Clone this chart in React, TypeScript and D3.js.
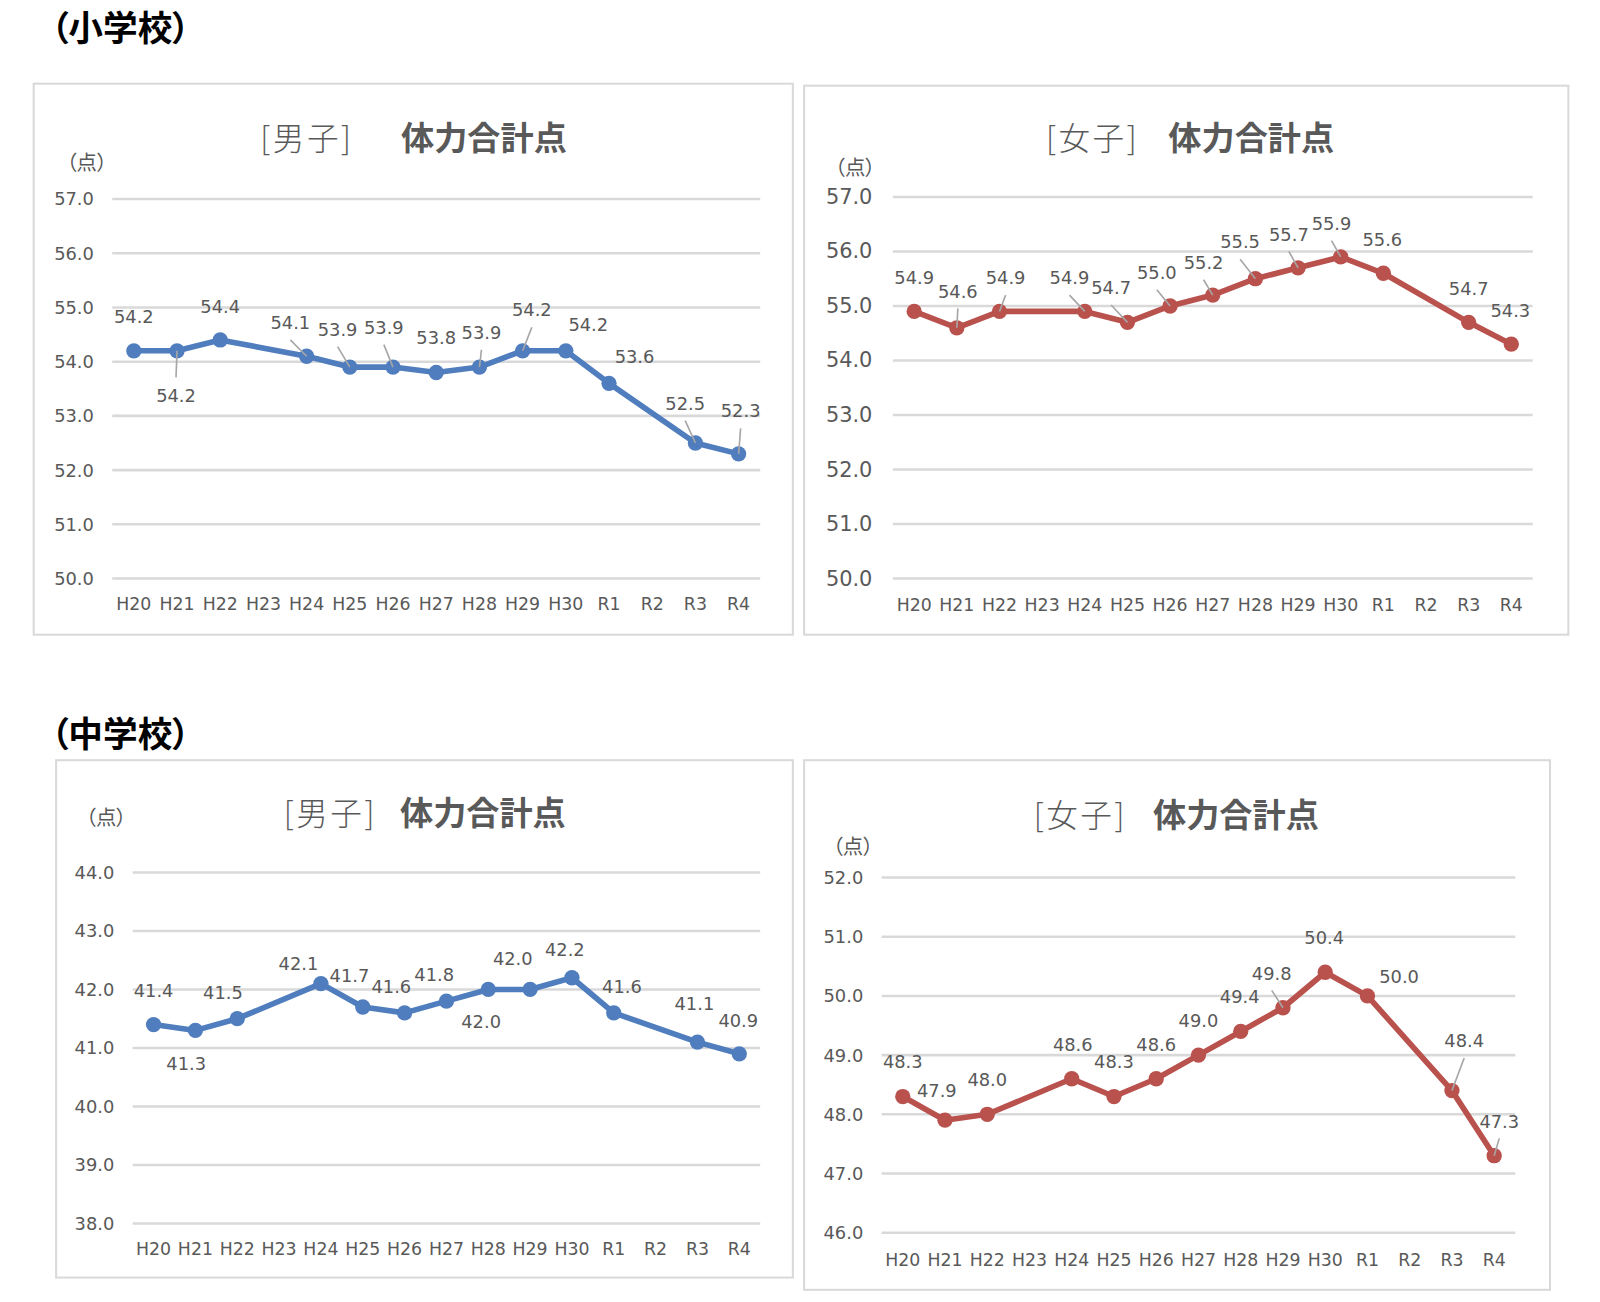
import React from "react";
import * as d3 from "d3";

// ---------- data ----------
const categories = ["H20", "H21", "H22", "H23", "H24", "H25", "H26", "H27", "H28", "H29", "H30", "R1", "R2", "R3", "R4"];

const elemBoys: (number | null)[] = [54.2, 54.2, 54.4, null, 54.1, 53.9, 53.9, 53.8, 53.9, 54.2, 54.2, 53.6, null, 52.5, 52.3];
const elemGirls: (number | null)[] = [54.9, 54.6, 54.9, null, 54.9, 54.7, 55.0, 55.2, 55.5, 55.7, 55.9, 55.6, null, 54.7, 54.3];
const juniorBoys: (number | null)[] = [41.4, 41.3, 41.5, null, 42.1, 41.7, 41.6, 41.8, 42.0, 42.0, 42.2, 41.6, null, 41.1, 40.9];
const juniorGirls: (number | null)[] = [48.3, 47.9, 48.0, null, 48.6, 48.3, 48.6, 49.0, 49.4, 49.8, 50.4, 50.0, null, 48.4, 47.3];

const elemTicks = [50, 51, 52, 53, 54, 55, 56, 57];
const juniorBoysTicks = [38, 39, 40, 41, 42, 43, 44];
const juniorGirlsTicks = [46, 47, 48, 49, 50, 51, 52];

const sectionTitles = ["（小学校）", "（中学校）"];
const genderLabels = ["[男子]", "[女子]"];
const mainTitle = "体力合計点";
const unitLabel = "（点）";

// ---------- styling / layout (reference is laid out at 1568 wide, scaled up) ----------
const S = 1600 / 1568;
const BLUE = "#4f7dbd";
const RED = "#b9514d";
const TEXT = "#595959";
const GRID = "#d9d9d9";
const LEADER = "#a6a6a6";
const NUM_FONT = "'DejaVu Sans', Verdana, sans-serif";
const JP_FONT = "'Noto Sans CJK JP', sans-serif";

type Offset = [number, number] | null;

interface PanelCfg {
  data: (number | null)[];
  ticks: number[];
  color: string;
  gender: string;
  box: [number, number, number, number];
  plotX: [number, number];
  plotY: [number, number]; // [bottom, top]
  xLabelY: number;
  tickX: number;
  tickFont: number;
  genderX: number;
  mainX: number;
  titleY: number;
  unit: [number, number];
  offsets: Offset[];
  leaders: number[];
}

const panels: PanelCfg[] = [
  {
    data: elemBoys, ticks: elemTicks, color: BLUE, gender: genderLabels[0],
    box: [33, 82, 777, 622], plotX: [110, 745], plotY: [567, 195], xLabelY: 592,
    tickX: 92, tickFont: 17.5, genderX: 255, mainX: 393, titleY: 133, unit: [85, 158],
    offsets: [[0, -34], [-1, 44], [0, -33], null, [-16, -33], [-12, -37], [-9, -39], [0, -34], [2, -34], [9, -40], [22, -26], [25, -26], null, [-10, -39], [2, -42]],
    leaders: [0, 1, 0, 0, 1, 1, 1, 0, 1, 1, 0, 0, 0, 1, 1],
  },
  {
    data: elemGirls, ticks: elemTicks, color: RED, gender: genderLabels[1],
    box: [788, 84, 1537, 622], plotX: [875, 1502], plotY: [567, 193], xLabelY: 593,
    tickX: 855, tickFont: 20.5, genderX: 1025, mainX: 1145, titleY: 133, unit: [838, 163],
    offsets: [[0, -33], [1, -36], [6, -33], null, [-15, -33], [-16, -34], [-13, -33], [-9, -32], [-15, -36], [-9, -33], [-9, -33], [-1, -33], null, [0, -33], [-1, -33]],
    leaders: [0, 1, 1, 0, 1, 1, 1, 1, 1, 1, 1, 0, 0, 0, 0],
  },
  {
    data: juniorBoys, ticks: juniorBoysTicks, color: BLUE, gender: genderLabels[0],
    box: [55, 745, 777, 1252], plotX: [130, 745], plotY: [1199, 855], xLabelY: 1224,
    tickX: 112, tickFont: 17.5, genderX: 278, mainX: 392, titleY: 795, unit: [104, 800],
    offsets: [[0, -33], [-9, 32], [-14, -26], null, [-22, -20], [-13, -31], [-13, -26], [-12, -26], [-7, 31], [-17, -30], [-7, -28], [8, -26], null, [-3, -38], [-1, -33]],
    leaders: [0, 0, 0, 0, 0, 0, 0, 0, 0, 0, 0, 0, 0, 0, 0],
  },
  {
    data: juniorGirls, ticks: juniorGirlsTicks, color: RED, gender: genderLabels[1],
    box: [788, 745, 1519, 1264], plotX: [864, 1485], plotY: [1208, 860], xLabelY: 1235,
    tickX: 846, tickFont: 17.5, genderX: 1013, mainX: 1130, titleY: 797, unit: [836, 828],
    offsets: [[0, -34], [-8, -29], [0, -34], null, [1, -34], [0, -34], [0, -34], [0, -34], [-1, -34], [-11, -34], [-1, -34], [31, -19], null, [12, -49], [5, -34]],
    leaders: [0, 0, 0, 0, 0, 0, 0, 0, 0, 1, 0, 0, 0, 1, 1],
  },
];

function Panel({ cfg }: { cfg: PanelCfg }) {
  const x = d3.scaleBand<string>().domain(categories).range(cfg.plotX).paddingInner(0).paddingOuter(0);
  const cx = (c: string) => (x(c) ?? 0) + x.bandwidth() / 2;
  const y = d3
    .scaleLinear()
    .domain([cfg.ticks[0], cfg.ticks[cfg.ticks.length - 1]])
    .range(cfg.plotY);

  const pts = categories
    .map((c, i) => ({ c, i, v: cfg.data[i] }))
    .filter((p) => p.v !== null) as { c: string; i: number; v: number }[];

  const line = d3
    .line<{ c: string; v: number }>()
    .x((d) => cx(d.c))
    .y((d) => y(d.v));

  const [bx0, by0, bx1, by1] = cfg.box;

  return (
    <g>
      <rect x={bx0} y={by0} width={bx1 - bx0} height={by1 - by0} fill="#fff" stroke={GRID} strokeWidth={2} />
      {/* title */}
      <text x={cfg.genderX} y={cfg.titleY} fontFamily={JP_FONT} fontSize={31} fontWeight={300} fill={TEXT} dominantBaseline="central" letterSpacing={2.5} style={{ fontFeatureSettings: "'palt'" }}>
        {cfg.gender}
      </text>
      <text x={cfg.mainX} y={cfg.titleY} fontFamily={JP_FONT} fontSize={32.5} fontWeight="bold" fill={TEXT} dominantBaseline="central">
        {mainTitle}
      </text>
      <text x={cfg.unit[0]} y={cfg.unit[1]} fontFamily={JP_FONT} fontSize={20} fill={TEXT} textAnchor="middle" dominantBaseline="central" style={{ fontFeatureSettings: "'palt'" }}>
        {unitLabel}
      </text>
      {/* grid + y ticks */}
      {cfg.ticks.map((t) => (
        <g key={t}>
          <line x1={cfg.plotX[0]} x2={cfg.plotX[1]} y1={y(t)} y2={y(t)} stroke={GRID} strokeWidth={2.5} />
          <text x={cfg.tickX} y={y(t)} fontFamily={NUM_FONT} fontSize={cfg.tickFont} fill={TEXT} textAnchor="end" dominantBaseline="central">
            {d3.format(".1f")(t)}
          </text>
        </g>
      ))}
      {/* x labels */}
      {categories.map((c) => (
        <text key={c} x={cx(c)} y={cfg.xLabelY} fontFamily={NUM_FONT} fontSize={17} fill={TEXT} textAnchor="middle" dominantBaseline="central">
          {c}
        </text>
      ))}
      {/* series */}
      <path d={line(pts) ?? ""} fill="none" stroke={cfg.color} strokeWidth={5.5} strokeLinejoin="round" />
      {pts.map((p) => (
        <circle key={p.c} cx={cx(p.c)} cy={y(p.v)} r={7.5} fill={cfg.color} />
      ))}
      {/* leader lines */}
      {pts.map((p) => {
        const off = cfg.offsets[p.i];
        if (!off || !cfg.leaders[p.i]) return null;
        const px = cx(p.c);
        const py = y(p.v);
        const lx = px + off[0];
        const ly = py + off[1];
        const sy = off[1] < 0 ? ly + 17 : ly - 18;
        return <line key={"l" + p.c} x1={lx} y1={sy} x2={px} y2={py} stroke={LEADER} strokeWidth={1.6} />;
      })}
      {/* data labels */}
      {pts.map((p) => {
        const off = cfg.offsets[p.i];
        if (!off) return null;
        return (
          <text key={"t" + p.c} x={cx(p.c) + off[0]} y={y(p.v) + off[1]} fontFamily={NUM_FONT} fontSize={17.5} fill={TEXT} textAnchor="middle" dominantBaseline="central">
            {d3.format(".1f")(p.v)}
          </text>
        );
      })}
    </g>
  );
}

export default function App() {
  return (
    <div style={{ position: "absolute", left: 0, top: 0, width: 1600, height: 1302, background: "#fff" }}>
      <svg width={1600} height={1302} style={{ display: "block" }}>
        <rect width={1600} height={1302} fill="#fff" />
        <g transform={`scale(${S})`}>
          <text x={50} y={25} fontFamily={JP_FONT} fontSize={34} fontWeight="bold" fill="#000" dominantBaseline="central" style={{ fontFeatureSettings: "'palt'" }}>
            {sectionTitles[0]}
          </text>
          <text x={50} y={717} fontFamily={JP_FONT} fontSize={34} fontWeight="bold" fill="#000" dominantBaseline="central" style={{ fontFeatureSettings: "'palt'" }}>
            {sectionTitles[1]}
          </text>
          {panels.map((p, i) => (
            <Panel key={i} cfg={p} />
          ))}
        </g>
      </svg>
    </div>
  );
}
